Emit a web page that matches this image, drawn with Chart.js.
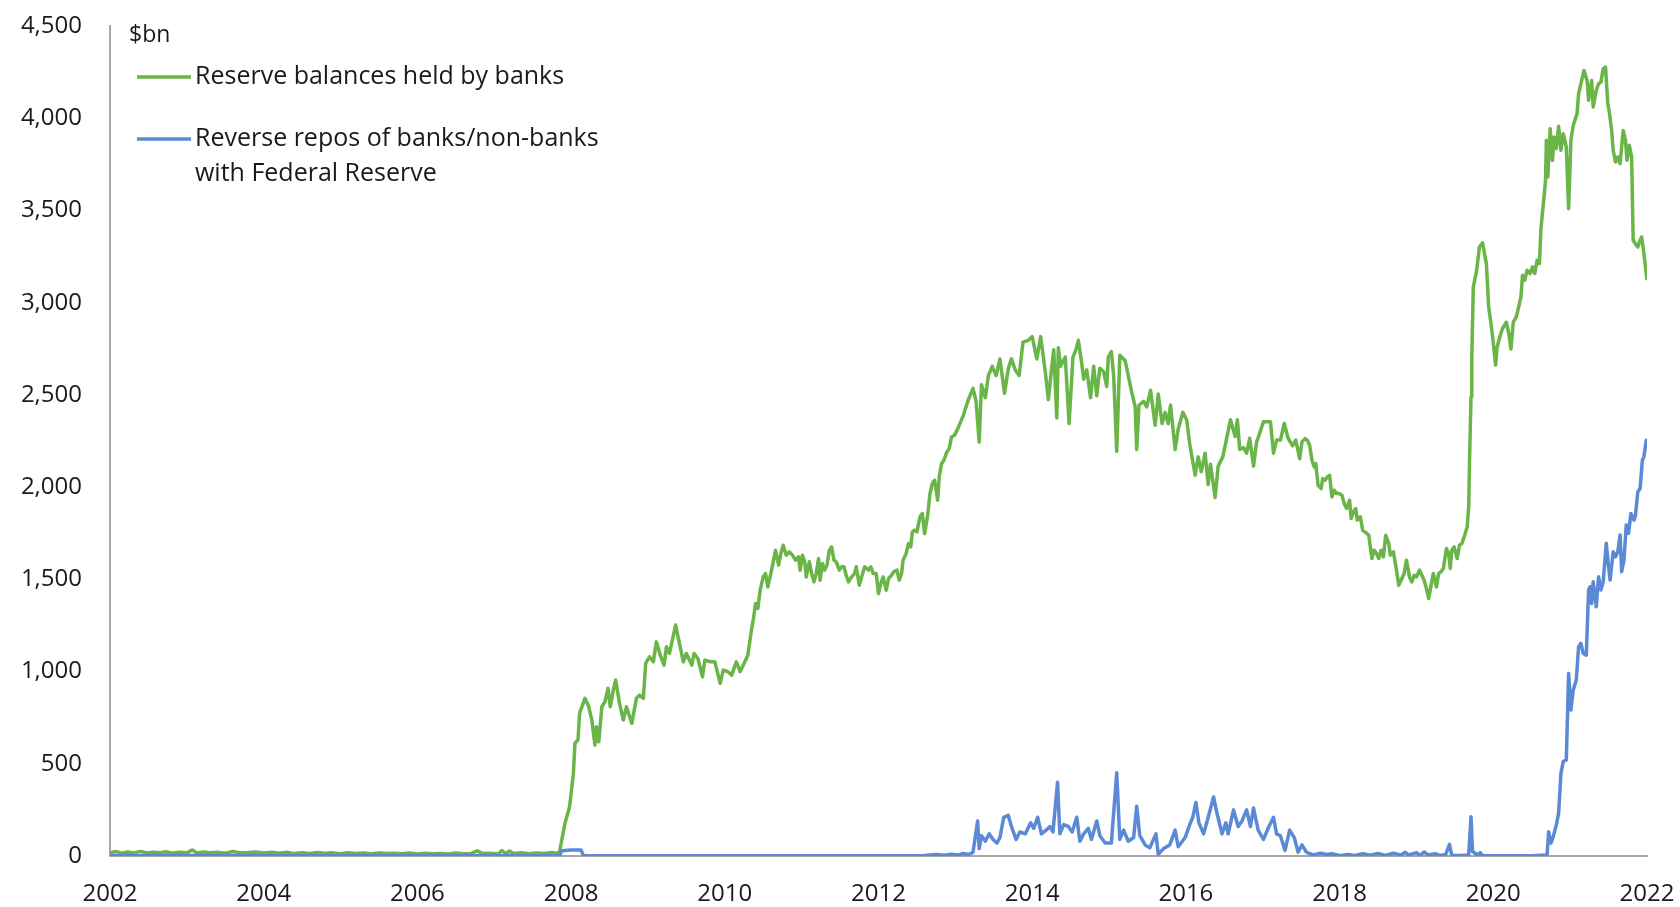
<!DOCTYPE html>
<html>
<head>
<meta charset="utf-8">
<title>Reserve balances and reverse repos</title>
<script src="https://cdn.jsdelivr.net/npm/chart.js@4.4.1/dist/chart.umd.min.js"></script>
<style>
  html, body { margin: 0; padding: 0; background: #fff; }
  #wrap { width: 1680px; height: 907px; position: relative; }
</style>
</head>
<body>
<div id="wrap"><canvas id="chart"></canvas></div>
<script>
// axis ticks
const yearTicks = [2002, 2004, 2006, 2008, 2010, 2012, 2014, 2016, 2018, 2020, 2022];
const valueTicks = [0, 500, 1000, 1500, 2000, 2500, 3000, 3500, 4000, 4500];
const unitLabel = '$bn';

const seriesLabels = [
  ['Reserve balances held by banks'],
  ['Reverse repos of banks/non-banks', 'with Federal Reserve']
];
const seriesColors = ['#6AB547', '#5A8AD5'];

// reserve balances held by banks, $bn (decimal year / value)
const reserveYears = [
  2002.00, 2002.08, 2002.15, 2002.23, 2002.31, 2002.40, 2002.48, 2002.56, 2002.65, 2002.73, 2002.81, 2002.90,
  2003.00, 2003.07, 2003.13, 2003.22, 2003.30, 2003.40, 2003.50, 2003.60, 2003.70, 2003.80, 2003.90,
  2004.00, 2004.10, 2004.20, 2004.30, 2004.40, 2004.50, 2004.60, 2004.70, 2004.80, 2004.90,
  2005.00, 2005.10, 2005.20, 2005.30, 2005.40, 2005.50, 2005.60, 2005.70, 2005.80, 2005.90,
  2006.00, 2006.10, 2006.20, 2006.30, 2006.40, 2006.50, 2006.60, 2006.70, 2006.78, 2006.85, 2006.95,
  2007.05, 2007.10, 2007.15, 2007.20, 2007.25, 2007.35, 2007.45, 2007.55, 2007.65, 2007.75, 2007.82,
  2007.85, 2007.92, 2007.98, 2008.03, 2008.05, 2008.09, 2008.11, 2008.18, 2008.23, 2008.27, 2008.31, 2008.33, 2008.36, 2008.40, 2008.44, 2008.48, 2008.51, 2008.55, 2008.58, 2008.63, 2008.68, 2008.72, 2008.79, 2008.85, 2008.89, 2008.94, 2008.97,
  2009.02, 2009.07, 2009.11, 2009.16, 2009.21, 2009.24, 2009.28, 2009.36, 2009.41, 2009.46, 2009.50, 2009.57, 2009.60, 2009.65, 2009.71, 2009.74, 2009.81, 2009.87, 2009.94, 2009.98,
  2010.04, 2010.09, 2010.15, 2010.20, 2010.25, 2010.30, 2010.34, 2010.37, 2010.40, 2010.43, 2010.46, 2010.50, 2010.53, 2010.56, 2010.60, 2010.63, 2010.66, 2010.70, 2010.73, 2010.76, 2010.80, 2010.84, 2010.88, 2010.92, 2010.96, 2010.98,
  2011.01, 2011.04, 2011.06, 2011.10, 2011.13, 2011.16, 2011.19, 2011.22, 2011.24, 2011.27, 2011.30, 2011.33, 2011.36, 2011.39, 2011.42, 2011.45, 2011.49, 2011.52, 2011.55, 2011.58, 2011.61, 2011.65, 2011.69, 2011.71, 2011.75, 2011.78, 2011.82, 2011.87, 2011.90, 2011.93, 2011.97,
  2012.00, 2012.03, 2012.06, 2012.10, 2012.13, 2012.17, 2012.20, 2012.24, 2012.27, 2012.30, 2012.32, 2012.36, 2012.39, 2012.42, 2012.44, 2012.47, 2012.50, 2012.54, 2012.57, 2012.60, 2012.64, 2012.67, 2012.70, 2012.73, 2012.77, 2012.79, 2012.82, 2012.85, 2012.89, 2012.92, 2012.95, 2012.99,
  2013.04, 2013.10, 2013.17, 2013.23, 2013.27, 2013.31, 2013.34, 2013.39, 2013.43, 2013.48, 2013.53, 2013.58, 2013.64, 2013.69, 2013.73, 2013.78, 2013.83, 2013.88, 2013.95,
  2014.00, 2014.06, 2014.11, 2014.17, 2014.21, 2014.28, 2014.32, 2014.34, 2014.37, 2014.43, 2014.48, 2014.53, 2014.57, 2014.60, 2014.64, 2014.67, 2014.71, 2014.76, 2014.80, 2014.84, 2014.88, 2014.93, 2014.97, 2014.99,
  2015.03, 2015.06, 2015.10, 2015.14, 2015.21, 2015.29, 2015.34, 2015.36, 2015.39, 2015.45, 2015.49, 2015.54, 2015.60, 2015.64, 2015.69, 2015.73, 2015.77, 2015.80, 2015.86, 2015.90, 2015.96,
  2016.01, 2016.05, 2016.12, 2016.16, 2016.20, 2016.25, 2016.29, 2016.32, 2016.38, 2016.42, 2016.48, 2016.52, 2016.58, 2016.64, 2016.67, 2016.70, 2016.75, 2016.79, 2016.83, 2016.88, 2016.92, 2016.97,
  2017.01, 2017.10, 2017.14, 2017.18, 2017.23, 2017.28, 2017.33, 2017.39, 2017.43, 2017.48, 2017.51, 2017.55, 2017.58, 2017.61, 2017.64, 2017.67, 2017.69, 2017.72, 2017.76, 2017.78, 2017.81, 2017.84, 2017.87, 2017.90, 2017.93, 2017.96, 2017.99,
  2018.03, 2018.06, 2018.09, 2018.13, 2018.15, 2018.18, 2018.21, 2018.23, 2018.27, 2018.30, 2018.33, 2018.38, 2018.40, 2018.42, 2018.45, 2018.48, 2018.51, 2018.54, 2018.57, 2018.60, 2018.64, 2018.66, 2018.70, 2018.74, 2018.77, 2018.80, 2018.84, 2018.87, 2018.91, 2018.94, 2018.97,
  2019.00, 2019.04, 2019.07, 2019.10, 2019.13, 2019.16, 2019.19, 2019.22, 2019.26, 2019.29, 2019.32, 2019.35, 2019.39, 2019.42, 2019.44, 2019.46, 2019.49, 2019.53, 2019.56, 2019.59, 2019.62, 2019.66, 2019.68, 2019.69, 2019.71, 2019.72, 2019.74, 2019.78, 2019.82, 2019.86, 2019.91, 2019.94, 2019.97,
  2020.00, 2020.03, 2020.05, 2020.09, 2020.12, 2020.17, 2020.20, 2020.23, 2020.26, 2020.30, 2020.33, 2020.36, 2020.38, 2020.41, 2020.44, 2020.48, 2020.51, 2020.54, 2020.57, 2020.60, 2020.62, 2020.66, 2020.68, 2020.69, 2020.71, 2020.74, 2020.77, 2020.79, 2020.82, 2020.85, 2020.88, 2020.91, 2020.95, 2020.98,
  2021.01, 2021.04, 2021.09, 2021.11, 2021.15, 2021.18, 2021.22, 2021.24, 2021.28, 2021.30, 2021.34, 2021.37, 2021.40, 2021.43, 2021.46, 2021.49, 2021.51, 2021.54, 2021.56, 2021.59, 2021.62, 2021.65, 2021.69, 2021.72, 2021.74, 2021.77, 2021.80, 2021.82, 2021.85, 2021.88, 2021.91, 2021.93, 2021.96, 2022.00
];
const reserveValues = [
  18, 24, 15, 22, 17, 25, 16, 21, 18, 23, 15, 20,
  17, 33, 16, 22, 18, 20, 15, 24, 17, 19, 22,
  16, 21, 15, 20, 13, 18, 14, 19, 15, 17,
  12, 18, 14, 16, 12, 17, 13, 15, 12, 16,
  11, 15, 12, 14, 11, 16, 12, 14, 28, 13, 15,
  11, 30, 12, 27, 14, 18, 12, 16, 13, 19, 15,
  23, 177, 267, 448, 611, 629, 773, 855, 809, 737, 601, 701, 619, 809, 836, 909, 809, 900, 954, 827, 737, 809, 719, 855, 872, 855, 1044,
  1080, 1053, 1161, 1089, 1035, 1134, 1098, 1252, 1153, 1053, 1098, 1035, 1098, 1071, 972, 1062, 1053, 1053, 936, 1008,
  999, 981, 1053, 999, 1044, 1089, 1207, 1280, 1369, 1342, 1441, 1513, 1532, 1459, 1532, 1595, 1658, 1577, 1640, 1685, 1631, 1649, 1631, 1604, 1622, 1549,
  1631, 1595, 1513, 1595, 1532, 1486, 1532, 1613, 1495, 1586, 1550, 1577, 1658, 1676, 1604, 1595, 1550, 1568, 1568, 1522, 1486, 1513, 1532, 1568, 1468, 1513, 1568, 1550, 1568, 1532, 1532,
  1423, 1477, 1513, 1441, 1504, 1522, 1541, 1550, 1495, 1532, 1604, 1640, 1694, 1676, 1757, 1766, 1757, 1839, 1857, 1748, 1848, 1965, 2019, 2037, 1929, 2055, 2127, 2145, 2191, 2209, 2272, 2281,
  2325, 2385, 2475, 2535, 2465, 2244, 2555, 2485, 2605, 2655, 2605, 2695, 2509, 2645, 2695, 2635, 2605, 2786, 2796,
  2816, 2695, 2816, 2625, 2475, 2745, 2375, 2756, 2655, 2705, 2345, 2705, 2745, 2796, 2685, 2585, 2635, 2485, 2655, 2495, 2645, 2625, 2545, 2705,
  2735, 2605, 2194, 2715, 2685, 2525, 2435, 2204, 2445, 2465, 2435, 2525, 2335, 2505, 2345, 2405, 2345, 2445, 2204, 2315, 2405,
  2365, 2234, 2064, 2164, 2084, 2184, 2014, 2124, 1944, 2114, 2164, 2244, 2365, 2275, 2365, 2204, 2214, 2184, 2265, 2114, 2244, 2305,
  2355, 2355, 2184, 2255, 2255, 2345, 2265, 2224, 2255, 2154, 2245, 2263, 2254, 2227, 2146, 2109, 2128, 2010, 1992, 2046, 2037, 2055, 2064, 1947, 1983, 1965, 1965,
  1956, 1911, 1884, 1929, 1830, 1866, 1884, 1821, 1839, 1766, 1757, 1739, 1676, 1613, 1658, 1640, 1613, 1658, 1622, 1739, 1694, 1631, 1649, 1550, 1468, 1495, 1532, 1604, 1513, 1486, 1522,
  1513, 1550, 1522, 1495, 1450, 1396, 1468, 1532, 1459, 1532, 1541, 1559, 1667, 1640, 1559, 1658, 1676, 1613, 1685, 1694, 1730, 1784, 1893, 2128, 2489, 2700, 3086, 3167, 3302, 3324, 3212, 2977, 2887,
  2780, 2662, 2760, 2822, 2860, 2894, 2836, 2749, 2894, 2923, 2977, 3031, 3149, 3122, 3176, 3158, 3194, 3158, 3230, 3212, 3402, 3573, 3663, 3880, 3682, 3943, 3772, 3898, 3835, 3956, 3826, 3916, 3844, 3510,
  3880, 3961, 4025, 4133, 4205, 4259, 4205, 4097, 4205, 4061, 4151, 4187, 4196, 4268, 4277, 4079, 4034, 3934, 3826, 3763, 3790, 3754, 3934, 3880, 3772, 3853, 3790, 3338, 3320, 3302, 3338, 3356, 3266, 3122
];

// reverse repos of banks/non-banks with the Fed, $bn
const repoYears = [
  2002.00, 2003.00, 2004.00, 2005.00, 2006.00, 2007.00, 2007.85, 2007.88, 2008.00, 2008.13, 2008.16, 2009.00, 2010.00, 2011.00, 2012.00, 2012.60, 2012.75, 2012.85, 2012.95, 2013.05, 2013.10, 2013.17, 2013.23,
  2013.29, 2013.31, 2013.34, 2013.39, 2013.44, 2013.49, 2013.54, 2013.58, 2013.63, 2013.69, 2013.73, 2013.79, 2013.84, 2013.91, 2013.98,
  2014.02, 2014.07, 2014.12, 2014.18, 2014.23, 2014.27, 2014.33, 2014.36, 2014.41, 2014.47, 2014.52, 2014.58, 2014.62, 2014.67, 2014.73, 2014.77, 2014.84, 2014.88, 2014.95,
  2015.03, 2015.10, 2015.14, 2015.19, 2015.25, 2015.32, 2015.36, 2015.40, 2015.47, 2015.53, 2015.61, 2015.64, 2015.71, 2015.79, 2015.86, 2015.90, 2015.99,
  2016.05, 2016.09, 2016.13, 2016.17, 2016.23, 2016.29, 2016.36, 2016.40, 2016.47, 2016.52, 2016.55, 2016.62, 2016.68, 2016.73, 2016.79, 2016.84, 2016.88, 2016.94,
  2017.01, 2017.07, 2017.14, 2017.18, 2017.23, 2017.29, 2017.35, 2017.41, 2017.46, 2017.51, 2017.57, 2017.66, 2017.75, 2017.83, 2017.90,
  2018.01, 2018.10, 2018.20, 2018.30, 2018.40, 2018.50, 2018.60, 2018.70, 2018.80, 2018.85, 2018.90,
  2019.00, 2019.05, 2019.10, 2019.15, 2019.25, 2019.30, 2019.38, 2019.43, 2019.46, 2019.60, 2019.68, 2019.71, 2019.73, 2019.80, 2019.83, 2019.86,
  2020.00, 2020.50, 2020.70, 2020.72, 2020.75, 2020.78, 2020.82, 2020.85, 2020.88, 2020.91, 2020.95, 2020.98,
  2021.01, 2021.04, 2021.08, 2021.11, 2021.14, 2021.17, 2021.21, 2021.24, 2021.26, 2021.28, 2021.30, 2021.34, 2021.37, 2021.40, 2021.43, 2021.47, 2021.50, 2021.52, 2021.56, 2021.59, 2021.62, 2021.65, 2021.67, 2021.70, 2021.73, 2021.76, 2021.79, 2021.83, 2021.85, 2021.88, 2021.91, 2021.94, 2021.96, 2021.99, 2022.00
];
const repoValues = [
  2, 3, 2, 2, 2, 2, 3, 28, 32, 32, 3, 2, 2, 2, 2, 3, 8, 4, 10, 6, 14, 8, 20,
  190, 40, 110, 80, 120, 90, 70, 100, 210, 220, 160, 90, 130, 120, 180,
  150, 210, 120, 140, 160, 130, 400, 120, 170, 160, 130, 210, 80, 120, 150, 90, 190, 110, 70,
  70, 451, 90, 140, 80, 100, 270, 110, 60, 44, 120, 10, 40, 60, 140, 50, 100,
  170, 210, 290, 180, 120, 210, 320, 240, 120, 180, 120, 250, 160, 190, 250, 160, 260, 140,
  90, 150, 210, 120, 110, 30, 140, 100, 20, 60, 20, 6, 15, 8, 12,
  2, 8, 3, 12, 4, 14, 3, 15, 5, 20, 6,
  18, 4, 22, 5, 12, 3, 8, 63, 3, 4, 6, 213, 24, 5, 18, 2,
  1, 1, 6, 132, 69, 105, 168, 232, 448, 512, 521, 990,
  791, 900, 954, 1135, 1153, 1098, 1089, 1442, 1460, 1369, 1487, 1351, 1514, 1442, 1487, 1695, 1568, 1496, 1649, 1622, 1649, 1740, 1541, 1604, 1794, 1749, 1857, 1821, 1848, 1974, 1992, 2146, 2164, 2254, 2236
];

const toPoints = (xs, ys) => xs.map((x, i) => ({ x: x, y: ys[i] }));

const FONT = '"Open Sans", "Noto Sans", sans-serif';
const TEXT = '#1a1a1a';
const AXIS = '#a6a6a6';

// legend + unit label drawn inside the plot, top-left
const insideLegend = {
  id: 'insideLegend',
  afterDraw(chart) {
    const { ctx, chartArea } = chart;
    const x0 = chartArea.left;
    const y0 = chartArea.top;
    ctx.save();
    ctx.fillStyle = TEXT;
    ctx.textBaseline = 'middle';
    ctx.textAlign = 'left';
    ctx.font = '23px ' + FONT;
    ctx.fillText(unitLabel, x0 + 19, y0 + 9);

    ctx.font = '25px ' + FONT;
    const rows = [y0 + 51, y0 + 113];
    chart.data.datasets.forEach((ds, i) => {
      const y = rows[i];
      ctx.strokeStyle = ds.borderColor;
      ctx.lineWidth = 3.5;
      ctx.beginPath();
      ctx.moveTo(x0 + 27, y);
      ctx.lineTo(x0 + 81, y);
      ctx.stroke();
      seriesLabels[i].forEach((line, j) => {
        ctx.fillText(line, x0 + 85, y + j * 35);
      });
    });
    ctx.restore();
  }
};

new Chart(document.getElementById('chart'), {
  type: 'line',
  data: {
    datasets: [
      {
        label: seriesLabels[0].join(' '),
        data: toPoints(reserveYears, reserveValues),
        borderColor: seriesColors[0],
        borderWidth: 3.5,
        borderJoinStyle: 'round',
        pointRadius: 0,
        tension: 0,
        order: 1
      },
      {
        label: seriesLabels[1].join(' '),
        data: toPoints(repoYears, repoValues),
        borderColor: seriesColors[1],
        borderWidth: 3.5,
        borderJoinStyle: 'round',
        pointRadius: 0,
        tension: 0,
        order: 0
      }
    ]
  },
  options: {
    responsive: true,
    maintainAspectRatio: false,
    animation: false,
    devicePixelRatio: 1,
    layout: { padding: { left: 19, right: 33, top: 26, bottom: 0 } },
    plugins: {
      legend: { display: false },
      tooltip: { enabled: false }
    },
    scales: {
      x: {
        type: 'linear',
        min: 2002,
        max: 2022,
        afterBuildTicks: s => { s.ticks = yearTicks.map(v => ({ value: v })); },
        // fixed axis band; label overhang is covered by the layout padding
        afterFit: s => { s.height = 51; s.paddingLeft = 0; s.paddingRight = 0; },
        grid: { display: false, drawTicks: false },
        border: { display: true, color: AXIS, width: 2 },
        ticks: {
          autoSkip: false,
          maxRotation: 0,
          padding: 24,
          color: TEXT,
          font: { family: FONT, size: 24 },
          callback: v => String(v)
        }
      },
      y: {
        min: 0,
        max: 4500,
        afterBuildTicks: s => { s.ticks = valueTicks.map(v => ({ value: v })); },
        afterFit: s => { s.width = 91; s.paddingTop = 0; s.paddingBottom = 0; },
        grid: { display: false, drawTicks: false },
        border: { display: true, color: AXIS, width: 2 },
        ticks: {
          padding: 28,
          color: TEXT,
          font: { family: FONT, size: 24 },
          callback: v => v.toLocaleString('en-US')
        }
      }
    }
  },
  plugins: [insideLegend]
});
</script>
</body>
</html>
